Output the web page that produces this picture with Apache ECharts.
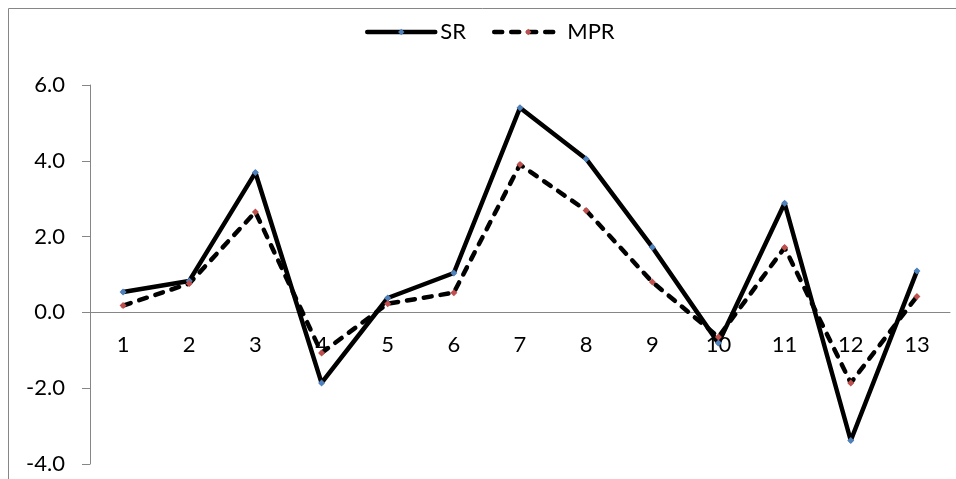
<!DOCTYPE html>
<html>
<head>
<meta charset="utf-8">
<script src="https://cdn.jsdelivr.net/npm/echarts@6/dist/echarts.min.js"></script>
<style>
html,body{margin:0;padding:0;background:#fff;}
#chart{width:956px;height:479px;}
</style>
</head>
<body>
<div id="chart"></div>
<script>
const categories = ['1','2','3','4','5','6','7','8','9','10','11','12','13'];
const srValues  = [0.54, 0.83, 3.69, -1.86, 0.38, 1.04, 5.40, 4.05, 1.72, -0.81, 2.88, -3.38, 1.09];
const mprValues = [0.18, 0.76, 2.65, -1.07, 0.23, 0.52, 3.90, 2.69, 0.80, -0.65, 1.71, -1.86, 0.42];
const seriesNames = ['SR', 'MPR'];
const yTicks = { min: -4, max: 6, interval: 2 };

const FONT = 'Lato, "Open Sans", sans-serif';
const chart = echarts.init(document.getElementById('chart'), null, {renderer: 'canvas'});
const gridTop = 85, gridBottomPx = 464;
const zeroOffset = (gridBottomPx - gridTop) * (0 - yTicks.min) / (yTicks.max - yTicks.min);
chart.setOption({
  animation: false,
  backgroundColor: '#ffffff',
  graphic: [{
    type: 'rect',
    shape: {x: 8.5, y: 8.5, width: 1000, height: 1000},
    style: {fill: 'none', stroke: '#868686', lineWidth: 1},
    silent: true
  }],
  grid: {left: 90, right: 6, top: gridTop, bottom: 479 - gridBottomPx, containLabel: false, outerBoundsMode: 'none'},
  legend: {
    top: 16, left: 360,
    itemWidth: 68, itemHeight: 8, itemGap: 26,
    lineStyle: {width: 4.5, cap: 'round'},
    textStyle: {fontFamily: FONT, fontSize: 22, color: '#000'},
    data: seriesNames
  },
  xAxis: {
    type: 'category',
    data: categories,
    boundaryGap: true,
    position: 'bottom',
    offset: -zeroOffset,
    axisLine: {onZero: false, lineStyle: {color: '#868686', width: 1}},
    axisTick: {show: false},
    axisLabel: {fontFamily: FONT, fontSize: 22, color: '#000', margin: 22},
    splitLine: {show: false}
  },
  yAxis: {
    type: 'value',
    min: yTicks.min, max: yTicks.max, interval: yTicks.interval,
    axisLine: {show: true, lineStyle: {color: '#868686', width: 1}},
    axisTick: {show: true, length: 8, lineStyle: {color: '#868686'}},
    axisLabel: {fontFamily: FONT, fontSize: 22, color: '#000', margin: 25,
      formatter: v => v.toFixed(1)},
    splitLine: {show: false}
  },
  series: [
    {
      name: seriesNames[0], type: 'line', data: srValues,
      symbol: 'diamond', symbolSize: 7, showAllSymbol: true,
      itemStyle: {color: '#4F81BD'},
      lineStyle: {color: '#000', width: 4.5, cap: 'round', join: 'round'}
    },
    {
      name: seriesNames[1], type: 'line', data: mprValues,
      symbol: 'diamond', symbolSize: 7, showAllSymbol: true,
      itemStyle: {color: '#C0504D'},
      lineStyle: {color: '#000', width: 4.5, type: [8, 9], cap: 'round', join: 'round'}
    }
  ]
});
</script>
</body>
</html>
